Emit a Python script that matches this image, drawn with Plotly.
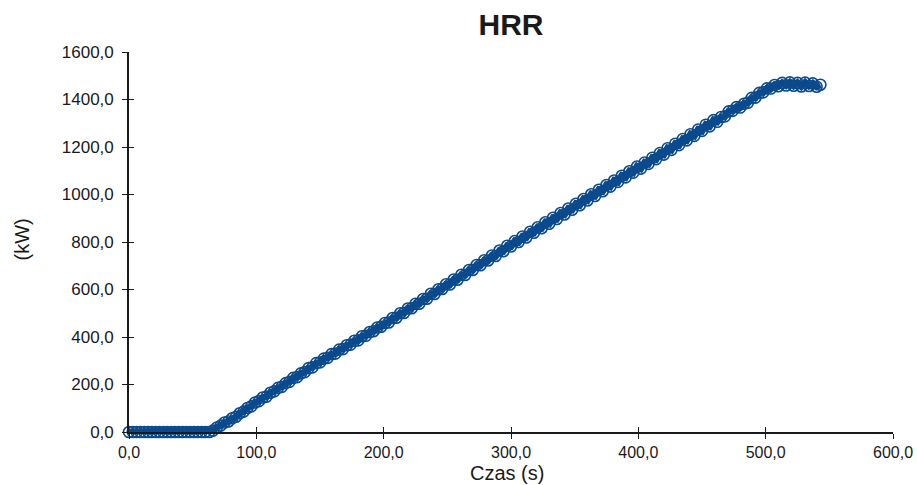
import plotly.graph_objects as go

# Time (s) samples
czas_s = [
    0, 3, 6, 9, 12, 15, 18, 21, 24, 27, 30, 33, 36, 39, 42, 45, 48, 51, 54, 57, 60, 63,
    66, 69, 72, 75, 78, 81, 84, 87, 90, 93, 96, 99, 102, 105, 108, 111, 114, 117, 120,
    123, 126, 129, 132, 135, 138, 141, 144, 147, 150, 153, 156, 159, 162, 165, 168, 171,
    174, 177, 180, 183, 186, 189, 192, 195, 198, 201, 204, 207, 210, 213, 216, 219, 222,
    225, 228, 231, 234, 237, 240, 243, 246, 249, 252, 255, 258, 261, 264, 267, 270, 273,
    276, 279, 282, 285, 288, 291, 294, 297, 300, 303, 306, 309, 312, 315, 318, 321, 324,
    327, 330, 333, 336, 339, 342, 345, 348, 351, 354, 357, 360, 363, 366, 369, 372, 375,
    378, 381, 384, 387, 390, 393, 396, 399, 402, 405, 408, 411, 414, 417, 420, 423, 426,
    429, 432, 435, 438, 441, 444, 447, 450, 453, 456, 459, 462, 465, 468, 471, 474, 477,
    480, 483, 486, 489, 492, 495, 498, 501, 504, 507, 510, 513, 516, 519, 522, 525, 528,
    531, 534, 537, 540, 543,
]

# HRR (kW) values
hrr_kw = [
    0, 0, 0, 0, 0, 0, 0, 0, 0, 0, 0, 0, 0, 0, 0, 0, 0, 0, 0, 0, 0, 0,
    6, 19, 27, 40, 44, 58, 64, 79, 86, 101, 108, 124, 130, 145, 149, 165, 171, 186, 190,
    206, 211, 228, 231, 247, 252, 269, 272, 290, 293, 309, 312, 328, 330, 347, 349, 365,
    368, 384, 386, 403, 405, 421, 424, 440, 443, 459, 461, 480, 481, 500, 501, 520, 521,
    540, 540, 560, 561, 582, 581, 601, 602, 622, 621, 642, 641, 662, 661, 682, 682, 703,
    702, 723, 722, 743, 741, 764, 761, 784, 781, 804, 800, 823, 819, 843, 839, 862, 858,
    883, 877, 902, 897, 922, 916, 941, 936, 961, 955, 981, 975, 1001, 994, 1020, 1014, 1040,
    1033, 1059, 1053, 1079, 1072, 1098, 1092, 1118, 1109, 1135, 1129, 1155, 1149, 1175, 1168, 1195, 1188,
    1214, 1208, 1234, 1228, 1254, 1247, 1274, 1268, 1294, 1287, 1313, 1306, 1326, 1329, 1350, 1352, 1368,
    1366, 1382, 1386, 1407, 1408, 1428, 1430, 1447, 1446, 1461, 1456, 1470, 1459, 1472, 1458, 1470, 1455,
    1471, 1457, 1468, 1454, 1462,
]

x_range = [0, 600]
y_range = [0, 1600]
x_ticks = [0, 100, 200, 300, 400, 500, 600]
y_ticks = [0, 200, 400, 600, 800, 1000, 1200, 1400, 1600]

title_text = "HRR"
x_title = "Czas (s)"
y_title = "(kW)"

blue = "#0b4a8c"
ink = "#1a1a1a"
font_family = "Liberation Sans, Arial, sans-serif"

fig = go.Figure()
fig.add_trace(go.Scatter(
    x=czas_s, y=hrr_kw, mode="lines+markers",
    line=dict(color=blue, width=7),
    marker=dict(symbol="circle-open", size=11, color=blue, line=dict(width=1.6, color=blue)),
    cliponaxis=False, showlegend=False, hoverinfo="x+y",
))
# invisible trace to activate the overlay axes (inner half of crossing ticks)
fig.add_trace(go.Scatter(
    x=czas_s, y=hrr_kw, mode="none", xaxis="x2", yaxis="y2",
    showlegend=False, hoverinfo="skip",
))

axis_common = dict(showgrid=False, zeroline=False, tickcolor=ink, tickwidth=1.3, automargin=False)

fig.update_layout(
    width=917, height=485,
    margin=dict(l=129, r=24, t=52, b=53, autoexpand=False),
    paper_bgcolor="white", plot_bgcolor="white",
    separators=",.",
    font=dict(family=font_family, color=ink),
    title=dict(text="<b>" + title_text + "</b>", x=0.5, xref="paper", xanchor="center",
               y=1 - 24 / 485, yanchor="middle", font=dict(size=30, color=ink, family=font_family)),
    xaxis=dict(range=x_range, tickvals=x_ticks, tickformat=".1f", ticks="outside", ticklen=5,
               showline=True, linecolor=ink, linewidth=1.6, ticklabelstandoff=0,
               tickfont=dict(size=16, color=ink), **axis_common),
    yaxis=dict(range=y_range, tickvals=y_ticks, tickformat=".1f", ticks="outside", ticklen=5,
               showline=True, linecolor=ink, linewidth=1.6, ticklabelstandoff=5,
               tickfont=dict(size=17, color=ink), **axis_common),
    xaxis2=dict(range=x_range, tickvals=x_ticks, ticks="inside", ticklen=5, overlaying="x",
                showticklabels=False, showline=False, anchor="y2", **axis_common),
    yaxis2=dict(range=y_range, tickvals=y_ticks, ticks="inside", ticklen=5, overlaying="y",
                showticklabels=False, showline=False, anchor="x2", **axis_common),
    annotations=[
        dict(text=x_title, xref="paper", yref="paper", x=(506.5 - 129) / 764, y=(432 - 473) / 380,
             xanchor="center", yanchor="middle", showarrow=False, font=dict(size=20, color=ink)),
        dict(text=y_title, xref="paper", yref="paper", x=(21.5 - 129) / 764, y=(432 - 240) / 380,
             xanchor="center", yanchor="middle", textangle=-90, showarrow=False,
             font=dict(size=20, color=ink)),
    ],
)

fig.write_html("out.html")
